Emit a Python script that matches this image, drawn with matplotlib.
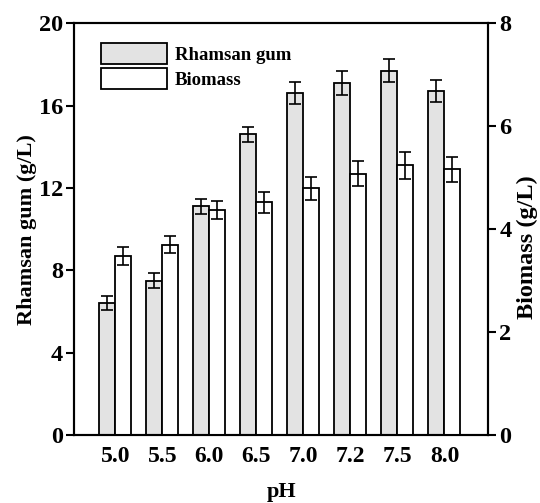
import numpy as np
import matplotlib.pyplot as plt

ph_labels = ["5.0", "5.5", "6.0", "6.5", "7.0", "7.2", "7.5", "8.0"]
rhamsan = [6.4, 7.5, 11.1, 14.6, 16.6, 17.1, 17.7, 16.7]
rhamsan_err = [0.35, 0.35, 0.35, 0.36, 0.52, 0.6, 0.55, 0.55]
biomass = [3.48, 3.70, 4.37, 4.52, 4.79, 5.08, 5.24, 5.16]
biomass_err = [0.18, 0.16, 0.17, 0.2, 0.22, 0.25, 0.26, 0.24]

plt.rcParams['font.family'] = ['Liberation Serif', 'DejaVu Serif']
plt.rcParams['font.weight'] = 'bold'

fig = plt.figure(figsize=(5.4, 5.03), dpi=100)
ax = fig.add_axes([0.137, 0.135, 0.767, 0.819])
ax2 = ax.twinx()

x = np.arange(len(ph_labels))
w = 0.34
ekw = dict(elinewidth=1.2, capthick=1.2)
b1 = ax.bar(x - w / 2, rhamsan, w, yerr=rhamsan_err, capsize=4, color='#e3e3e3',
            edgecolor='black', linewidth=1.3, error_kw=ekw, label='Rhamsan gum')
b2 = ax2.bar(x + w / 2, biomass, w, yerr=biomass_err, capsize=4, color='white',
             edgecolor='black', linewidth=1.3, error_kw=ekw, label='Biomass')

ax.set_xlim(-0.88, 7.93)
ax.set_ylim(0, 20)
ax2.set_ylim(0, 8)
ax.set_yticks([0, 4, 8, 12, 16, 20])
ax2.set_yticks([0, 2, 4, 6, 8])
ax.set_xticks(x)
ax.set_xticklabels(ph_labels)

for a in (ax, ax2):
    for s in a.spines.values():
        s.set_linewidth(1.5)
    a.tick_params(axis='y', length=6, width=1.5, labelsize=17.5, direction='out', pad=2)
ax.tick_params(axis='x', length=0, labelsize=17, pad=8)

ax.set_ylabel('Rhamsan gum (g/L)', fontsize=16, fontweight='bold', labelpad=1)
ax2.set_ylabel('Biomass (g/L)', fontsize=17.5, fontweight='bold', labelpad=4)
ax2.yaxis.label.set_y(0.456)
ax.set_xlabel('pH', fontsize=16, fontweight='bold', labelpad=11)

ax.legend([b1, b2], ['Rhamsan gum', 'Biomass'], loc='upper left', frameon=False,
          prop={'size': 13.5, 'weight': 'bold'}, handlelength=3.5, handleheight=1.35,
          handletextpad=0.45, labelspacing=0.2, bbox_to_anchor=(0.047, 0.97),
          borderaxespad=0)

fig.savefig('out.png', dpi=100)
